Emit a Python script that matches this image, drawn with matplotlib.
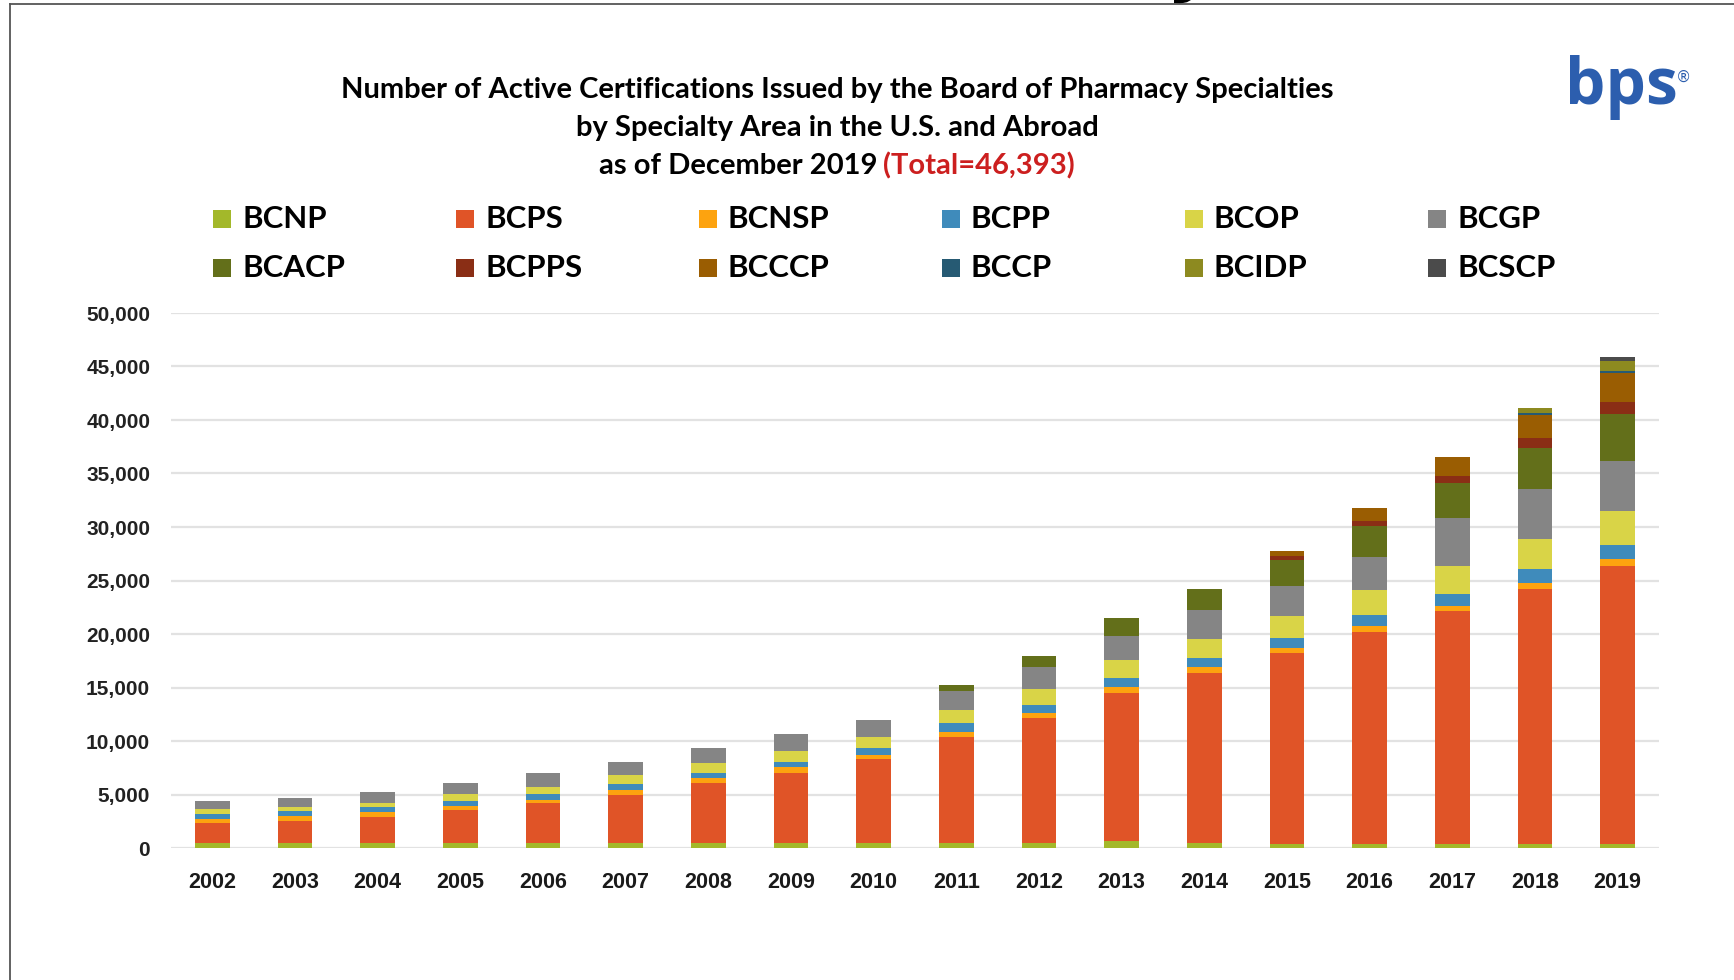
import numpy as np
import matplotlib
matplotlib.use('Agg')
import matplotlib.pyplot as plt
from matplotlib.patches import Rectangle, Polygon
from matplotlib.lines import Line2D
from matplotlib.ticker import FuncFormatter

# ---------------- data ----------------
years = [str(y) for y in range(2002, 2020)]
names = ['BCNP', 'BCPS', 'BCNSP', 'BCPP', 'BCOP', 'BCGP',
         'BCACP', 'BCPPS', 'BCCCP', 'BCCP', 'BCIDP', 'BCSCP']

BCNP = [460, 460, 460, 460, 450, 450, 450, 470, 470, 470, 470, 620, 470, 400, 400, 400, 400, 400]
BCPS = [1840, 2060, 2460, 3070, 3710, 4550, 5580, 6520, 7820, 9930, 11640, 13820, 15840, 17820, 19750, 21740, 23810, 26000]
BCNSP = [430, 490, 460, 400, 370, 380, 470, 560, 380, 470, 470, 620, 560, 490, 600, 500, 600, 640]
BCPP = [430, 460, 460, 460, 530, 570, 530, 530, 650, 780, 780, 840, 930, 940, 990, 1100, 1230, 1260]
BCOP = [460, 370, 400, 680, 660, 870, 940, 1020, 1080, 1210, 1460, 1650, 1770, 2000, 2340, 2570, 2830, 3170]
BCGP = [740, 830, 1040, 1010, 1310, 1220, 1400, 1520, 1530, 1830, 2110, 2270, 2640, 2830, 3120, 4490, 4660, 4660]
BCACP = [0, 0, 0, 0, 0, 0, 0, 0, 0, 530, 990, 1670, 1950, 2430, 2870, 3330, 3830, 4410]
BCPPS = [0, 0, 0, 0, 0, 0, 0, 0, 0, 0, 0, 0, 0, 400, 500, 670, 940, 1140]
BCCCP = [0, 0, 0, 0, 0, 0, 0, 0, 0, 0, 0, 0, 0, 430, 1230, 1760, 2160, 2670]
BCCP = [0, 0, 0, 0, 0, 0, 0, 0, 0, 0, 0, 0, 0, 0, 0, 0, 230, 185]
BCIDP = [0, 0, 0, 0, 0, 0, 0, 0, 0, 0, 0, 0, 0, 0, 0, 0, 440, 1020]
BCSCP = [0, 0, 0, 0, 0, 0, 0, 0, 0, 0, 0, 0, 0, 0, 0, 0, 0, 310]

series = [BCNP, BCPS, BCNSP, BCPP, BCOP, BCGP, BCACP, BCPPS, BCCCP, BCCP, BCIDP, BCSCP]
colors = ['#a3b82a', '#e05427', '#fda30f', '#3f8bbb', '#d9d447', '#858585',
          '#636f1a', '#8a2e15', '#9a5d02', '#265a73', '#8d8a20', '#4b4b4b']

yticks = list(range(0, 50001, 5000))

title_lines = ['Number of Active Certifications Issued by the Board of Pharmacy Specialties',
               'by Specialty Area in the U.S. and Abroad']
title_line3_black = 'as of December 2019'
title_line3_red = '(Total=46,393)'

# ---------------- figure ----------------
W, H = 1734, 980
fig = plt.figure(figsize=(W / 100, H / 100), dpi=100)
fig.patch.set_facecolor('white')

TFONT = ['Lato', 'Liberation Sans', 'DejaVu Sans']
REG = ['Liberation Sans', 'DejaVu Sans']


def fx(px):
    return px / W


def fy(py):
    return 1 - py / H


ax = fig.add_axes([fx(171), fy(848), (1659 - 171) / W, (848 - 313) / H])
x = np.arange(len(years))
bottom = np.zeros(len(years))
for name, vals, col in zip(names, series, colors):
    v = np.array(vals, dtype=float)
    ax.bar(x, v, 0.42, bottom=bottom, color=col, label=name, linewidth=0)
    bottom += v

ax.set_xlim(-0.5, len(years) - 0.5)
ax.set_ylim(0, 50000)
ax.set_yticks(yticks)
ax.yaxis.set_major_formatter(FuncFormatter(lambda v, p: f'{int(v):,}'))
ax.set_xticks(x)
ax.set_xticklabels(years)
ax.yaxis.grid(True, color='#e2e2e2', linewidth=1.6)
ax.set_axisbelow(True)
for s in ax.spines.values():
    s.set_visible(False)
ax.tick_params(axis='both', length=0)
ax.tick_params(axis='y', pad=15)
ax.tick_params(axis='x', pad=17)
for lab in ax.get_yticklabels():
    lab.set_fontfamily(REG)
    lab.set_fontweight('bold')
    lab.set_fontsize(15)
    lab.set_color('#222222')
for lab in ax.get_xticklabels():
    lab.set_fontfamily(REG)
    lab.set_fontweight('bold')
    lab.set_fontsize(15.5)
    lab.set_color('#1a1a1a')

# ---------------- title ----------------
cx = 837
TS = 21
fig.text(fx(cx), fy(90), title_lines[0], ha='center', va='center',
         fontsize=TS, fontweight='bold', family=TFONT, color='black')
fig.text(fx(cx), fy(128), title_lines[1], ha='center', va='center',
         fontsize=TS, fontweight='bold', family=TFONT, color='black')
t1 = fig.text(0, fy(166), title_line3_black, ha='left', va='center',
              fontsize=TS, fontweight='bold', family=TFONT, color='black')
t2 = fig.text(0, fy(166), title_line3_red, ha='left', va='center',
              fontsize=TS, fontweight='bold', family=TFONT, color='#cc1f1f')
fig.canvas.draw()
r = fig.canvas.get_renderer()
w1 = t1.get_window_extent(r).width
w2 = t2.get_window_extent(r).width
gap = 6
start = cx - (w1 + gap + w2) / 2
t1.set_x(fx(start))
t2.set_x(fx(start + w1 + gap))

# ---------------- legend ----------------
for i, (name, col) in enumerate(zip(names, colors)):
    row, c = divmod(i, 6)
    left = 213 + 243 * c
    cy = 218.5 + 49.5 * row
    fig.add_artist(Rectangle((fx(left), fy(cy + 9)), 18 / W, 18 / H,
                             transform=fig.transFigure, facecolor=col,
                             edgecolor='none'))
    fig.text(fx(left + 29), fy(cy), name, ha='left', va='center',
             fontsize=22.5, fontweight='bold', family=TFONT, color='black')

# ---------------- logo ----------------
fig.text(fx(1565), fy(104), 'bps', ha='left', va='baseline', fontsize=46,
         fontweight='bold', family=['Open Sans', 'DejaVu Sans'], color='#2c5eae')
fig.text(fx(1683), fy(77), '\u00ae', ha='center', va='center', fontsize=11,
         family=['DejaVu Sans'], color='#2c5eae')

# ---------------- frame ----------------
fig.add_artist(Line2D([fx(9.5), 1], [fy(4.5), fy(4.5)], transform=fig.transFigure,
                      color='#555555', linewidth=1.3))
fig.add_artist(Line2D([fx(9.5), fx(9.5)], [0, fy(4.5)], transform=fig.transFigure,
                      color='#555555', linewidth=1.3))
# small cut-off glyph fragment at the top edge
frag = [(1174, 0), (1191, 0), (1187, 2.2), (1180, 3.6), (1174, 3.2)]
fig.add_artist(Polygon([(fx(a), fy(b)) for a, b in frag], closed=True,
                       transform=fig.transFigure, facecolor='black',
                       edgecolor='none'))

fig.savefig('out.png', dpi=100, facecolor='white')
